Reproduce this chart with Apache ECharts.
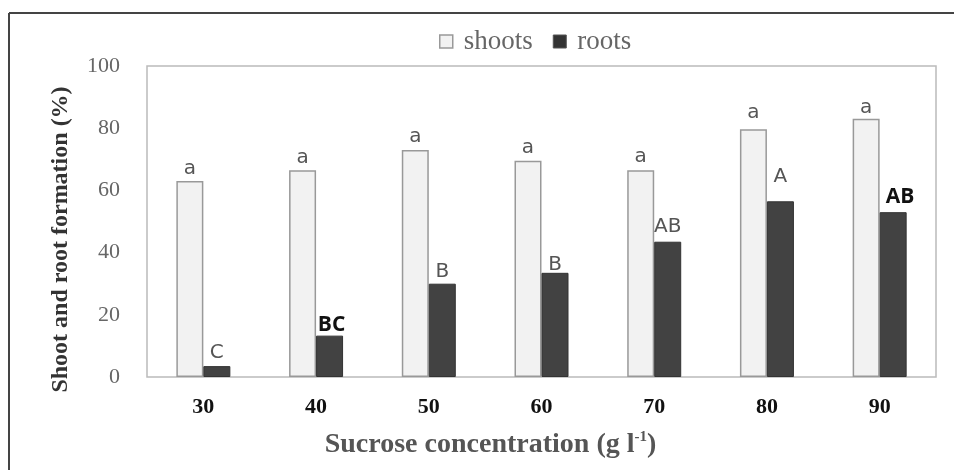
<!DOCTYPE html>
<html><head><meta charset="utf-8">
<script src="https://cdn.jsdelivr.net/npm/echarts@6/dist/echarts.min.js"></script>
<style>html,body{margin:0;padding:0;background:#fff}#c{width:954px;height:470px}</style>
</head><body><div id="c"></div>
<script>
const categories = ['30', '40', '50', '60', '70', '80', '90'];
const shoots = [63, 66.5, 73, 69.5, 66.5, 79.7, 83];
const roots = [3.5, 13.3, 30, 33.5, 43.5, 56.5, 53];
const shootLetters = ['a', 'a', 'a', 'a', 'a', 'a', 'a'];
const rootLetters = ['C', 'BC', 'B', 'B', 'AB', 'A', 'AB'];
const yTicks = [0, 20, 40, 60, 80, 100];

// label layout (not data)
const boldIdx = [1, 6];
const rootLabelDist = [3, 0, 2, -2, 5, 14, 5];
const rootLabelDx = [0, 2, 0, 0, 0, 0, 7];
const shootLabelDist = [2, 2, 3, 3, 3, 6, 1];

const chart = echarts.init(document.getElementById('c'));
const serif = '"Liberation Serif", "DejaVu Serif", serif';
const sans = '"DejaVu Sans", "Noto Sans", sans-serif';
const boldSans = '"Open Sans", "Noto Sans", sans-serif';

chart.setOption({
  backgroundColor: '#fff',
  animation: false,
  graphic: [
    { type: 'line', shape: { x1: 9, y1: 13, x2: 954, y2: 13 }, style: { stroke: '#444', lineWidth: 2 } },
    { type: 'line', shape: { x1: 9, y1: 13, x2: 9, y2: 470 }, style: { stroke: '#444', lineWidth: 2 } }
  ],
  legend: {
    top: 23, left: 434,
    itemWidth: 13, itemHeight: 13, itemGap: 20,
    textStyle: { fontFamily: serif, fontSize: 27, color: '#666', padding: [0, 0, 0, 6] },
    data: [
      { name: 'shoots', icon: 'rect', itemStyle: { color: '#f2f2f2', borderColor: '#999', borderWidth: 1.5 } },
      { name: 'roots', icon: 'rect', itemStyle: { color: '#333', borderColor: '#555', borderWidth: 1 } }
    ]
  },
  grid: { left: 147, right: 18, top: 66, bottom: 93, show: true, borderColor: '#bbb', borderWidth: 1.5 },
  xAxis: {
    type: 'category', data: categories,
    axisLine: { show: false }, axisTick: { show: false },
    axisLabel: { margin: 19, fontFamily: serif, fontWeight: 'bold', fontSize: 22, color: '#111' },
    name: 'Sucrose concentration (g l{s|-1})',
    nameLocation: 'middle', nameGap: 53,
    nameTextStyle: {
      fontFamily: serif, fontWeight: 'bold', fontSize: 28, color: '#555', padding: [0, 102, 0, 0],
      rich: { s: { fontFamily: serif, fontWeight: 'bold', fontSize: 15, color: '#555', verticalAlign: 'top', padding: [0, 0, 14, 0] } }
    }
  },
  yAxis: {
    type: 'value', min: 0, max: 100, interval: 20,
    axisLine: { show: false }, axisTick: { show: false }, splitLine: { show: false },
    axisLabel: { margin: 27, fontFamily: serif, fontSize: 22, color: '#666',
      formatter: v => yTicks.includes(v) ? String(v) : '' },
    name: 'Shoot and root formation (%)',
    nameLocation: 'middle', nameGap: 74, nameRotate: 90,
    nameTextStyle: { fontFamily: serif, fontWeight: 'bold', fontSize: 24, color: '#333', padding: [0, 36, 0, 0] }
  },
  series: [
    {
      name: 'shoots', type: 'bar', barWidth: 27, barGap: '0%',
      itemStyle: { color: '#f2f2f2', borderColor: '#999', borderWidth: 1.5 },
      data: shoots.map((v, i) => ({
        value: v,
        label: { show: true, position: 'top', distance: shootLabelDist[i], formatter: shootLetters[i],
          fontFamily: sans, fontSize: 20, color: '#555' }
      }))
    },
    {
      name: 'roots', type: 'bar', barWidth: 27,
      itemStyle: { color: '#424242', borderColor: '#333', borderWidth: 1 },
      data: roots.map((v, i) => {
        const bold = boldIdx.includes(i);
        return {
          value: v,
          label: { show: true, position: 'top', distance: rootLabelDist[i], formatter: rootLetters[i],
            offset: [rootLabelDx[i], 0],
            fontFamily: bold ? boldSans : sans,
            fontWeight: bold ? 'bold' : 'normal',
            fontSize: bold ? 21 : 20, color: bold ? '#111' : '#555' }
        };
      })
    }
  ]
});
</script></body></html>
